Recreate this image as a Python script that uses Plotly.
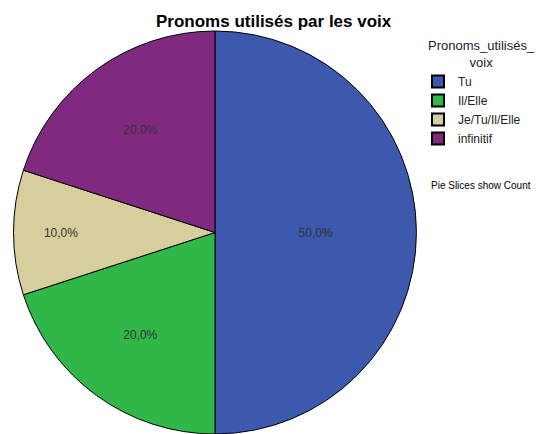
import plotly.graph_objects as go

categories = ["Tu", "Il/Elle", "Je/Tu/Il/Elle", "infinitif"]
counts = [5, 2, 1, 2]
colors = ["#3c59ad", "#2fb847", "#d6cf9d", "#7f2a7f"]

W, H = 536, 426  # page body has an 8px margin inside the 544x434 window

fig = go.Figure(go.Pie(
    labels=categories,
    values=counts,
    sort=False,
    direction="clockwise",
    rotation=0,
    marker=dict(colors=colors, line=dict(color="#000000", width=1)),
    texttemplate="%{percent:.1%}",
    textposition="inside",
    insidetextorientation="horizontal",
    textfont=dict(family="Liberation Sans, Arial", size=12, color="#333333"),
    domain=dict(x=[5/W, 409/W], y=[0, 403/H]),
    hoverinfo="label+value+percent",
))

fig.update_layout(
    width=W, height=H,
    margin=dict(l=0, r=0, t=0, b=0),
    paper_bgcolor="white",
    plot_bgcolor="white",
    separators=", ",
    annotations=[
        dict(text="<b>Pronoms utilisés par les voix</b>", x=266/W, y=1 - 2/H,
             xref="paper", yref="paper", xanchor="center", yanchor="top", showarrow=False,
             font=dict(family="Liberation Sans, Arial", size=17, color="#000000")),
        dict(text="Pronoms_utilisés_<br>voix", x=473/W, y=1 - 28/H, xref="paper", yref="paper",
             xanchor="center", yanchor="top", align="center", showarrow=False,
             font=dict(family="Liberation Sans, Arial", size=13, color="#222222")),
        dict(text="Pie Slices show Count", x=421/W, y=1 - 177/H, xref="paper", yref="paper",
             xanchor="left", yanchor="middle", showarrow=False,
             font=dict(family="Liberation Sans, Arial", size=10, color="#000000")),
    ],
    legend=dict(
        x=410/W, xanchor="left", y=1 - 59/H, yanchor="top",
        font=dict(family="Liberation Sans, Arial", size=12, color="#222222"),
        itemsizing="constant", tracegroupgap=0,
        bgcolor="rgba(0,0,0,0)",
    ),
)

fig.write_html("out.html")
